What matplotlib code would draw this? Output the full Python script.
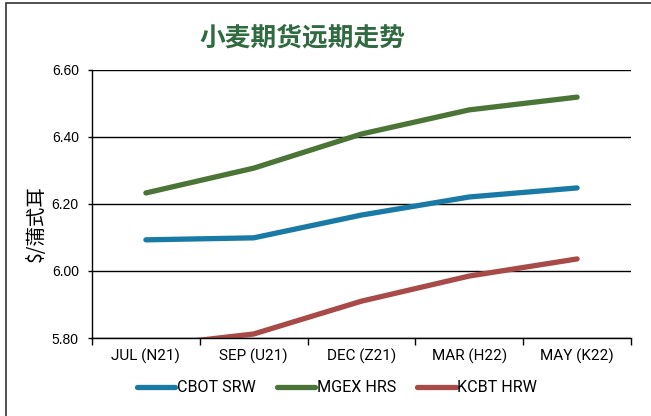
import matplotlib
matplotlib.use("Agg")
from matplotlib import pyplot as plt
from matplotlib.patches import Rectangle

# 小麦期货远期走势
months = ['JUL (N21)', 'SEP (U21)', 'DEC (Z21)', 'MAR (H22)', 'MAY (K22)']
cbot_srw = [6.093, 6.099, 6.167, 6.221, 6.248]
mgex_hrs = [6.233, 6.307, 6.409, 6.481, 6.519]
kcbt_hrw = [5.775, 5.812, 5.910, 5.985, 6.036]
yticks = [5.80, 6.00, 6.20, 6.40, 6.60]

plt.rcParams['font.family'] = ['Roboto', 'Noto Sans CJK SC', 'DejaVu Sans']

fig = plt.figure(figsize=(6.51, 4.16), dpi=100)
ax = fig.add_axes([92/651, 1 - 338/416, (631 - 92)/651, (338 - 70)/416])

x = list(range(len(months)))
ax.plot(x, cbot_srw, color='#1a7aa6', lw=3.8, solid_capstyle='round', label='CBOT SRW')
ax.plot(x, mgex_hrs, color='#4b7437', lw=3.8, solid_capstyle='round', label='MGEX HRS')
ax.plot(x, kcbt_hrw, color='#a84b48', lw=3.8, solid_capstyle='round', label='KCBT HRW')

ax.set_xlim(-0.5, len(months) - 0.5)
ax.set_ylim(5.80, 6.60)
ax.set_yticks(yticks)
ax.set_yticklabels(['%.2f' % v for v in yticks], family=['Liberation Sans'], fontsize=10)
ax.yaxis.grid(True, color='black', lw=1)
ax.set_axisbelow(True)

ax.set_xticks([i - 0.5 for i in range(len(months) + 1)])
ax.set_xticklabels([])
ax.set_xticks(x, minor=True)
ax.set_xticklabels(months, minor=True, fontsize=11)
ax.tick_params(axis='x', which='minor', length=0, pad=8)
ax.tick_params(axis='x', which='major', length=5, width=1, direction='out')
ax.tick_params(axis='y', length=3, width=1, pad=6.5)

for s in ['top', 'right']:
    ax.spines[s].set_visible(False)
ax.spines['left'].set_linewidth(1)
ax.spines['bottom'].set_linewidth(1)

fig.text(36/651, 1 - 224/416, '$/蒲式耳', rotation=90, ha='center', va='center',
         fontsize=14, family=['Noto Sans CJK SC', 'DejaVu Sans'])

fig.text(302/651, 1 - 38/416, '小麦期货远期走势', ha='center', va='center',
         fontsize=18.5, fontweight='bold', color='#2f6a40',
         family=['Noto Sans CJK SC', 'DejaVu Sans'])

fig.legend(loc='center', bbox_to_anchor=(337/651, 1 - 388/416), ncol=3, frameon=False,
           fontsize=11.6, handlelength=2.4, handletextpad=0.1, columnspacing=1.3)

# outer chart border (only top and left visible in the crop)
fig.patches.append(Rectangle((6/651, -0.1), 1.2, 1 - 3/416 + 0.1, transform=fig.transFigure,
                             fill=False, edgecolor='#333333', lw=1.2))

fig.savefig('out.png', dpi=100)
